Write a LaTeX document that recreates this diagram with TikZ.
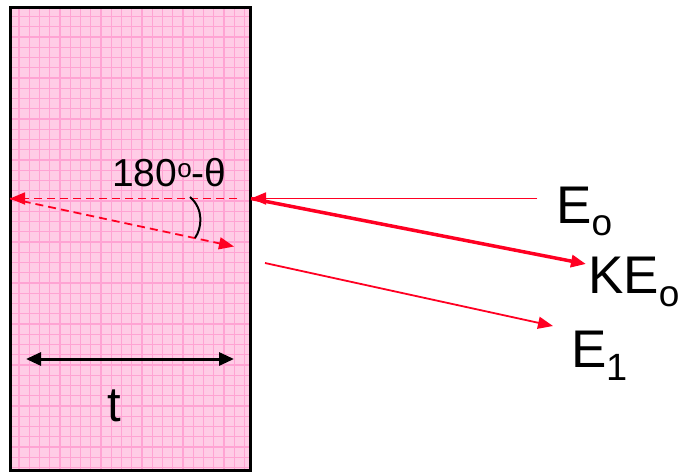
\documentclass[tikz,border=0pt]{standalone}
\usepackage{fontspec}
\setmainfont{Liberation Sans}
\usetikzlibrary{arrows.meta}
\definecolor{slabfill}{HTML}{FFCCE6}
\definecolor{slabgrid}{HTML}{FFA3D3}
\definecolor{rayred}{HTML}{FF0022}
\tikzset{
  ray/.style={draw=rayred, line width=1.8pt, -{Triangle[length=15pt,width=12pt]}, fill=rayred},
  bigray/.style={draw=rayred, line width=3.5pt, -{Triangle[length=15pt,width=12pt]}},
  dray/.style={draw=rayred, line width=1.8pt, dash pattern=on 8pt off 5pt, -{Triangle[length=15pt,width=12pt]}},
  dim/.style={draw=black, line width=3pt, {Triangle[length=15pt,width=13pt]}-{Triangle[length=15pt,width=13pt]}},
  lbl/.style={inner sep=0pt, anchor=base west, font=\fontsize{53}{60}\selectfont},
}
\begin{document}
\begin{tikzpicture}[x=1pt,y=-1pt]
\useasboundingbox (0,0) rectangle (681,472);
% slab
\fill[slabfill] (10.5,7.5) rectangle (250,470);
\begin{scope}
\clip (10.5,7.5) rectangle (250,470);
\foreach \i in {0,...,24} {
  \draw[slabgrid, line width=1.3pt] ({19+10.25*\i},7) -- ({19+10.25*\i},471);
}
\foreach \j in {0,...,46} {
  \draw[slabgrid, line width=1.3pt] (10,{16.5+10.25*\j}) -- (251,{16.5+10.25*\j});
}
\end{scope}
\draw[black, line width=3pt] (10.5,7.5) rectangle (250,470);

% coordinates
\coordinate (surf) at (251,198.5);
\coordinate (inA) at (537,198.5);
\coordinate (keEnd) at (586,264);
\coordinate (e1A) at (265,263);
\coordinate (e1B) at (553,326);
\coordinate (dA) at (237,198.5);
\coordinate (dL) at (10,198.5);
\coordinate (dB) at (234,246.5);
\coordinate (arcA) at (190,197);
\coordinate (arcB) at (195,238);
\coordinate (tA) at (26,359);
\coordinate (tB) at (234,359);

% rays
\draw[ray] (inA) -- (surf);
\draw[bigray] (surf) -- (keEnd);
\draw[ray] (e1A) -- (e1B);
\draw[dray] (dA) -- (dL);
\draw[dray] (dL) -- (dB);
\draw[black, line width=2pt] (arcA) .. controls (204,209) and (202,228) .. (arcB);
\draw[dim] (tA) -- (tB);

% labels
\node[lbl] (e0) at (556,223) {E{\fontsize{37}{37}\selectfont\raisebox{-12pt}{o}}};
\node[lbl] (ke0) at (588,293) {KE{\fontsize{37}{37}\selectfont\raisebox{-13pt}{o}}};
\node[lbl] (e1) at (571,367) {E{\fontsize{38}{38}\selectfont\raisebox{-13pt}{1}}};
\node[inner sep=0pt, anchor=base west, font=\fontsize{39}{44}\selectfont] (ang) at (112,186) {180{\fontsize{26}{26}\selectfont\raisebox{9pt}{o}}-θ};
\node[inner sep=0pt, anchor=base west, font=\fontsize{49}{56}\selectfont] (tl) at (107,421) {t};
\end{tikzpicture}
\end{document}
